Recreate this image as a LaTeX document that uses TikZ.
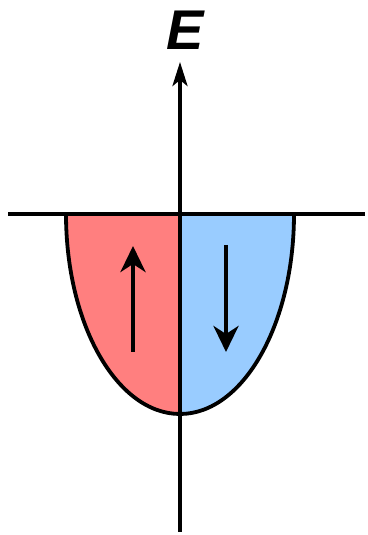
\documentclass[tikz,border=0pt]{standalone}
\usepackage{fontspec}
\setmainfont{Liberation Sans}
\usetikzlibrary{arrows.meta}
\definecolor{upred}{HTML}{FF7F7F}
\definecolor{downblue}{HTML}{99CCFF}
\begin{document}
\begin{tikzpicture}[x=1pt,y=1pt,
  axisline/.style={line width=3.8pt},
  spinarrow/.style={line width=4.2pt,-{Stealth[length=26pt,width=25pt,inset=8pt]}},
  axisarrow/.style={line width=3.8pt,-{Stealth[length=24pt,width=15pt,inset=6pt]}}]
\useasboundingbox (0,0) rectangle (367,535);
\coordinate (c) at (180,321);
\coordinate (bot) at (180,121);
\coordinate (L) at (66,321);
\coordinate (R) at (294,321);
% fills
\fill[upred] (c) -- (L) arc[start angle=180,end angle=270,x radius=114,y radius=200] -- cycle;
\fill[downblue] (c) -- (bot) arc[start angle=270,end angle=360,x radius=114,y radius=200] -- cycle;
% outline
\draw[axisline] (L) arc[start angle=180,end angle=360,x radius=114,y radius=200];
% axes
\coordinate (hl) at (8,321);
\coordinate (hr) at (365,321);
\draw[axisline] (hl) -- (hr);
\coordinate (vb) at (180,3);
\coordinate (vt) at (180,473);
\draw[axisarrow] (vb) -- (vt);
\node[inner sep=0pt,font=\fontsize{56}{56}\selectfont\bfseries\itshape] (E) at (185,505) {E};
% spin arrows
\coordinate (ua) at (133,183);
\coordinate (ub) at (133,289);
\draw[spinarrow] (ua) -- (ub);
\coordinate (da) at (226,290);
\coordinate (db) at (226,183);
\draw[spinarrow] (da) -- (db);
\end{tikzpicture}
\end{document}
